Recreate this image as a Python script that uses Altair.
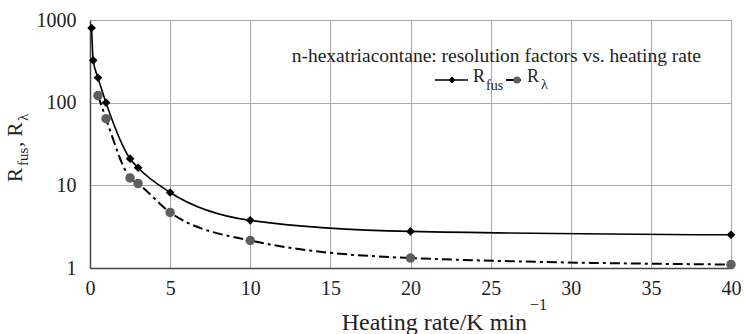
import altair as alt
import pandas as pd

# ---- data ----
rate_fus = [0.1, 0.2, 0.5, 1, 2.5, 3, 5, 10, 20, 40]
r_fus = [800, 325, 200, 100, 21, 16.3, 8.2, 3.77, 2.77, 2.52]
rate_lam = [0.5, 1, 2.5, 3, 5, 10, 20, 40]
r_lam = [122, 64, 12.3, 10.5, 4.7, 2.15, 1.32, 1.1]

x_ticks = [0, 5, 10, 15, 20, 25, 30, 35, 40]
y_ticks = [1, 10, 100, 1000]

legend_title = "n-hexatriacontane: resolution factors vs. heating rate"
x_title_main = "Heating rate/K min"
x_title_sup = "\u22121"

FONT = "'Liberation Serif', 'Times New Roman', Times, 'DejaVu Serif', serif"
W, H = 641, 248

df_fus = pd.DataFrame({"rate": rate_fus, "R": r_fus})
df_lam = pd.DataFrame({"rate": rate_lam, "R": r_lam})

xs = alt.Scale(domain=[0, 40], nice=False)
ys = alt.Scale(type="log", domain=[1, 1000], nice=False)

x_enc = alt.X("rate:Q", scale=xs, axis=alt.Axis(values=x_ticks, title=None, grid=True,
                                                  ticks=False, labelFontSize=20, labelPadding=10,
                                                  labelFont=FONT, labelColor="#222",
                                                  domainColor="#444", domainWidth=1.5,
                                                  gridColor="#a8a8a8", labelFlush=False))
y_enc = alt.Y("R:Q", scale=ys, axis=alt.Axis(values=y_ticks, title=None, grid=True, format="d",
                                               ticks=False, labelFontSize=20, labelPadding=14,
                                               labelFont=FONT, labelColor="#222",
                                               domainColor="#444", domainWidth=1.5,
                                               gridColor="#a8a8a8"))

base_fus = alt.Chart(df_fus)
base_lam = alt.Chart(df_lam)

line_fus = base_fus.mark_line(color="black", strokeWidth=1.6, interpolate="monotone").encode(x=x_enc, y=y_enc)
pts_fus = base_fus.mark_point(shape="diamond", filled=True, color="black", size=75, opacity=1).encode(
    x="rate:Q", y="R:Q")
line_lam = base_lam.mark_line(color="black", strokeWidth=2, strokeDash=[10, 4, 3, 4],
                              interpolate="monotone").encode(x="rate:Q", y="R:Q")
pts_lam = base_lam.mark_point(shape="circle", filled=True, color="#5e5e5e", size=90, opacity=1).encode(
    x="rate:Q", y="R:Q")

# ---- text helpers (legend, titles with sub/superscripts) ----
def txt(s, x, y, size, align="left", angle=0, color="#222"):
    props = dict(text=s, font=FONT, fontSize=size, align=align, baseline="alphabetic", color=color)
    if angle:
        props["angle"] = angle
    return alt.Chart(pd.DataFrame({"a": [0]})).mark_text(**props).encode(
        x=alt.value(x), y=alt.value(y))

def hrule(x1, x2, y, width=1.6):
    return alt.Chart(pd.DataFrame({"a": [0]})).mark_rule(color="black", strokeWidth=width).encode(
        x=alt.value(x1), x2=alt.value(x2), y=alt.value(y))

def sym(shape, x, y, color, size):
    return alt.Chart(pd.DataFrame({"a": [0]})).mark_point(shape=shape, filled=True, color=color,
                                                         size=size, opacity=1).encode(
        x=alt.value(x), y=alt.value(y))

deco = [
    # legend
    txt(legend_title, 611, 42, 19.5, align="right"),
    hrule(345, 378, 60),
    sym("diamond", 362, 60, "black", 50),
    txt("R", 383, 62, 18),
    txt("fus", 396, 70, 14),
    hrule(416, 431, 60, 2),
    sym("circle", 427, 60, "#5e5e5e", 50),
    txt("R", 437, 62, 18),
    txt("\u03bb", 451, 69, 14),
    # x-axis title
    txt(x_title_main, 437, 310, 24, align="right"),
    txt(x_title_sup, 440, 290, 16),
    # y-axis title (rotated)
    txt("R", -68, 162, 21, angle=270),
    txt("fus", -62, 146, 15, angle=270),
    txt(", R", -68, 127, 21, angle=270),
    txt("\u03bb", -62, 101, 15, angle=270),
]

chart = alt.layer(line_fus, line_lam, pts_fus, pts_lam, *deco).properties(
    width=W, height=H,
    autosize=alt.AutoSizeParams(type="none"),
    padding={"left": 90, "top": 20, "right": 13, "bottom": 66},
    background="white",
).configure_view(stroke="#8a8a8a", strokeWidth=1)

chart.save("out.html", embed_options={"renderer": "svg", "actions": False})
